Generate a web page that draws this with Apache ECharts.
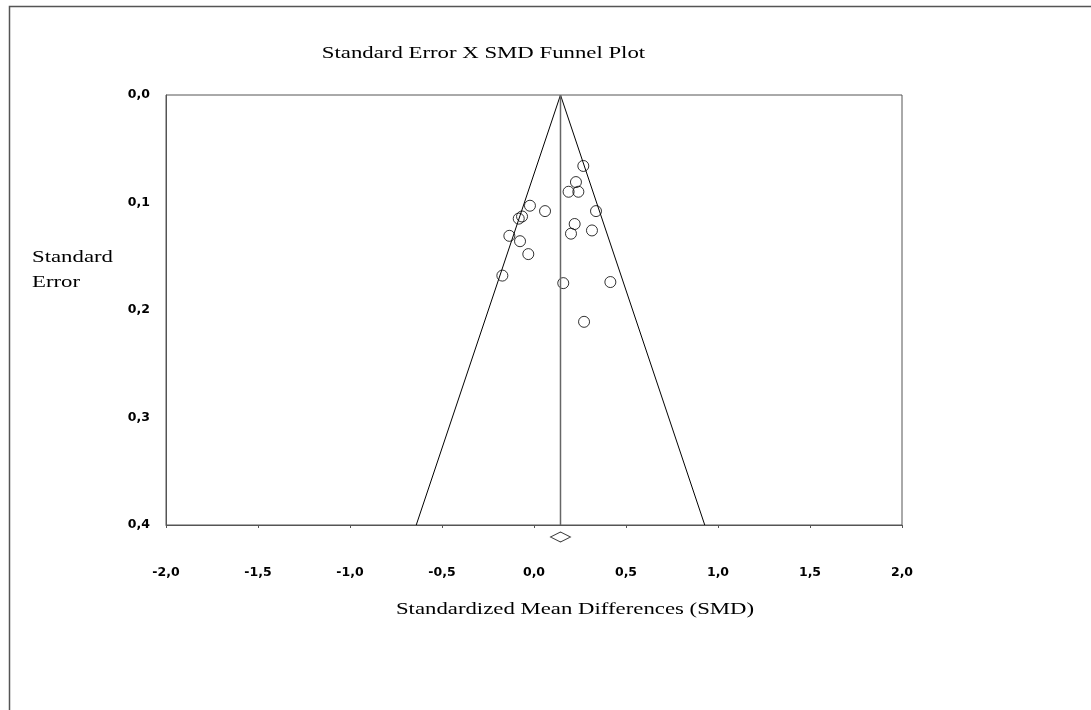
<!DOCTYPE html>
<html>
<head>
<meta charset="utf-8">
<script src="https://cdn.jsdelivr.net/npm/echarts@6/dist/echarts.min.js"></script>
<style>html,body{margin:0;padding:0;background:#fff;}#c{width:1091px;height:710px;}</style>
</head>
<body>
<div id="c"></div>
<script>
// Study effect sizes (SMD) and standard errors
const smd = [0.268, 0.228, 0.188, 0.241, -0.022, 0.060, 0.337, -0.065, -0.083, 0.221, 0.201, 0.315, -0.134, -0.076, -0.031, -0.172, 0.159, 0.415, 0.272];
const se  = [0.066, 0.081, 0.090, 0.090, 0.103, 0.108, 0.108, 0.113, 0.115, 0.120, 0.129, 0.126, 0.131, 0.136, 0.148, 0.168, 0.175, 0.174, 0.211];
const pooledSMD = 0.144;
const maxSE = 0.4;
const xTicks = [-2.0, -1.5, -1.0, -0.5, 0.0, 0.5, 1.0, 1.5, 2.0];
const yTicks = [0.0, 0.1, 0.2, 0.3, 0.4];

const fmt = v => v.toFixed(1).replace('.', ',');
const chart = echarts.init(document.getElementById('c'));
const serif = '"Liberation Serif", "Times New Roman", serif';
const sans = '"DejaVu Sans", Arial, sans-serif';
const axisColor = '#555';
const SX = 1.34;

chart.setOption({
  animation: false,
  backgroundColor: '#fff',
  graphic: [
    { type: 'polyline', shape: { points: [[9.5, 720], [9.5, 6.5], [1100, 6.5]] }, style: { stroke: '#555', lineWidth: 1.5, fill: null } },
    { type: 'text', x: 483.5, y: 45, scaleX: SX, style: { text: 'Standard Error X SMD Funnel Plot', font: '17px ' + serif, fill: '#000', textAlign: 'center', textVerticalAlign: 'top' } },
    { type: 'text', x: 32, y: 245, scaleX: SX, style: { text: 'Standard\nError', font: '17px ' + serif, fill: '#000', lineHeight: 25, textAlign: 'left', textVerticalAlign: 'top' } },
    { type: 'text', x: 575, y: 601, scaleX: SX, style: { text: 'Standardized Mean Differences (SMD)', font: '17px ' + serif, fill: '#000', textAlign: 'center', textVerticalAlign: 'top' } }
  ],
  grid: { left: 166, top: 95, width: 736, height: 430, show: true, borderColor: axisColor, borderWidth: 1, backgroundColor: '#fff' },
  xAxis: {
    type: 'value', min: xTicks[0], max: xTicks[xTicks.length - 1], interval: 0.5,
    axisLine: { show: true, onZero: false, lineStyle: { color: axisColor, width: 1 } },
    axisTick: { show: true, length: 3, lineStyle: { color: axisColor } },
    splitLine: { show: false },
    axisLabel: { margin: 41, formatter: fmt, fontFamily: sans, fontWeight: 'bold', fontSize: 12.5, color: '#000' }
  },
  yAxis: {
    type: 'value', inverse: true, min: yTicks[0], max: yTicks[yTicks.length - 1], interval: 0.1,
    axisLine: { show: true, onZero: false, lineStyle: { color: axisColor, width: 1 } },
    axisTick: { show: false },
    splitLine: { show: false },
    axisLabel: { margin: 16, formatter: fmt, fontFamily: sans, fontWeight: 'bold', fontSize: 12.5, color: '#000' }
  },
  series: [
    {
      type: 'line', symbol: 'none', silent: true,
      data: [[pooledSMD - 1.96 * maxSE, maxSE], [pooledSMD, 0], [pooledSMD + 1.96 * maxSE, maxSE]],
      lineStyle: { color: '#000', width: 1 }
    },
    {
      type: 'line', symbol: 'none', silent: true,
      data: [[pooledSMD, 0], [pooledSMD, maxSE]],
      lineStyle: { color: '#666', width: 1.5 }
    },
    {
      type: 'scatter', symbol: 'circle', symbolSize: 11,
      data: smd.map((v, i) => [v, se[i]]),
      itemStyle: { color: 'rgba(0,0,0,0)', borderColor: '#000', borderWidth: 1 }
    },
    {
      type: 'scatter', symbol: 'diamond', symbolSize: [20, 10], clip: false,
      data: [[pooledSMD, maxSE * 1.028]],
      itemStyle: { color: '#fff', borderColor: '#000', borderWidth: 1 }
    }
  ]
});
</script>
</body>
</html>
